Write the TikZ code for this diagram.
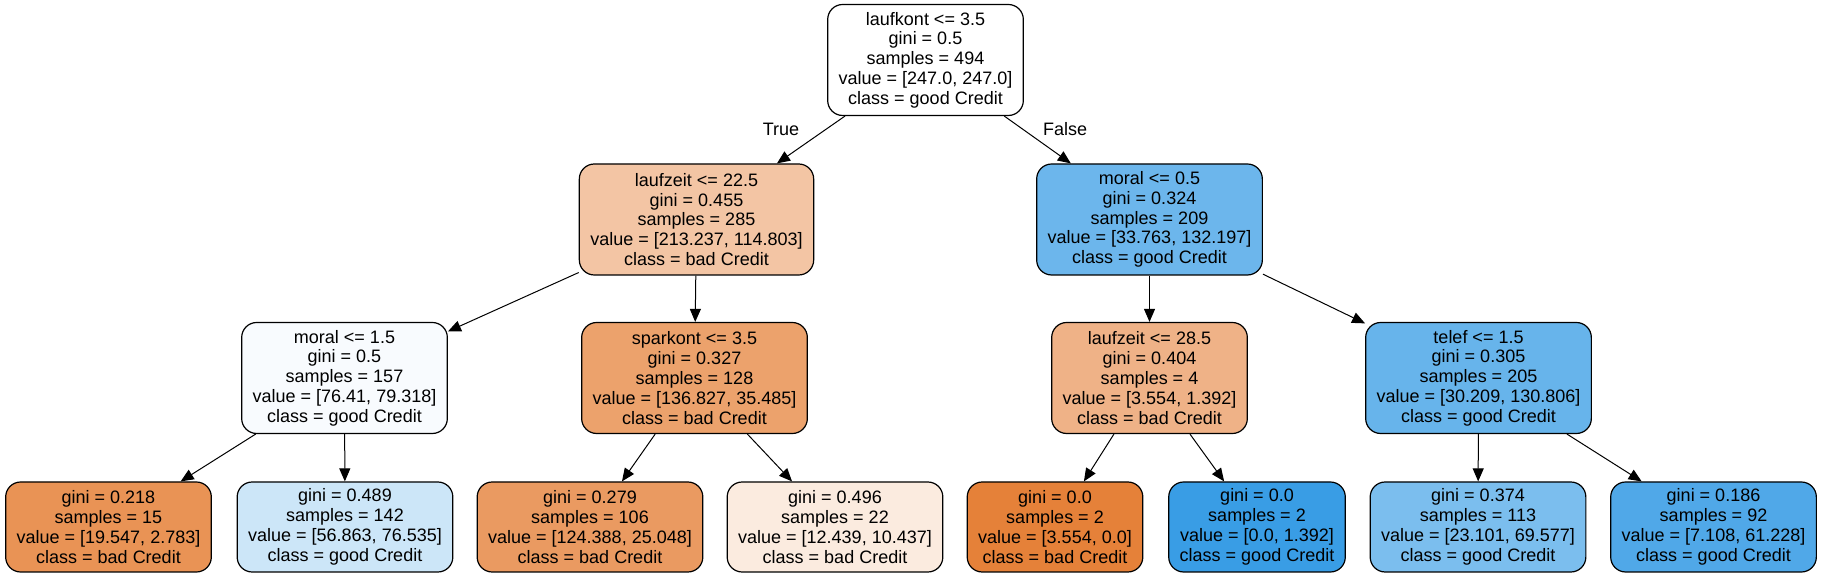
\documentclass[tikz,border=0pt]{standalone}
\usepackage{fontspec}
\setmainfont{Liberation Sans}
\usetikzlibrary{arrows.meta}

\definecolor{rootcol}{HTML}{FFFFFF}
\definecolor{laufzeitAcol}{HTML}{F3C5A4}
\definecolor{moralAcol}{HTML}{6CB6EC}
\definecolor{moralBcol}{HTML}{F8FBFE}
\definecolor{sparkontcol}{HTML}{ECA26C}
\definecolor{laufzeitBcol}{HTML}{EFB287}
\definecolor{telefcol}{HTML}{67B4EB}
\definecolor{leafAcol}{HTML}{E99355}
\definecolor{leafBcol}{HTML}{CCE6F8}
\definecolor{leafCcol}{HTML}{EA9A61}
\definecolor{leafDcol}{HTML}{FBEBDF}
\definecolor{leafEcol}{HTML}{E58139}
\definecolor{leafFcol}{HTML}{399DE5}
\definecolor{leafGcol}{HTML}{7BBEEE}
\definecolor{leafHcol}{HTML}{50A8E8}

\tikzset{
  treenode/.style={draw=black, line width=0.6pt, rounded corners=7.5pt, align=center,
    inner xsep=5.5pt, font=\fontsize{9}{9.9}\selectfont, minimum height=55.5pt},
  leafnode/.style={treenode, minimum height=45pt},
  treeedge/.style={-{Triangle[length=6.5pt,width=5.5pt]}, line width=0.5pt},
  edgelabel/.style={font=\fontsize{9}{9.9}\selectfont},
}

\begin{document}
\begin{tikzpicture}[x=0.5pt,y=0.5pt]
    \useasboundingbox (0,0) rectangle (1823,577);

    % Root
    \node[treenode, fill=rootcol] (root) at (925.5,517)
        {laufkont <= 3.5\\gini = 0.5\\samples = 494\\value = [247.0, 247.0]\\class = good Credit};

    % First level
    \node[treenode, fill=laufzeitAcol] (laufzeitA) at (696.5,357.5)
        {laufzeit <= 22.5\\gini = 0.455\\samples = 285\\value = [213.237, 114.803]\\class = bad Credit};
    \node[treenode, fill=moralAcol] (moralA) at (1149.5,357.5)
        {moral <= 0.5\\gini = 0.324\\samples = 209\\value = [33.763, 132.197]\\class = good Credit};

    % Second level
    \node[treenode, fill=moralBcol] (moralB) at (344.5,199)
        {moral <= 1.5\\gini = 0.5\\samples = 157\\value = [76.41, 79.318]\\class = good Credit};
    \node[treenode, fill=sparkontcol] (sparkont) at (694.5,199)
        {sparkont <= 3.5\\gini = 0.327\\samples = 128\\value = [136.827, 35.485]\\class = bad Credit};
    \node[treenode, fill=laufzeitBcol] (laufzeitB) at (1149.5,199)
        {laufzeit <= 28.5\\gini = 0.404\\samples = 4\\value = [3.554, 1.392]\\class = bad Credit};
    \node[treenode, fill=telefcol] (telef) at (1478.5,199)
        {telef <= 1.5\\gini = 0.305\\samples = 205\\value = [30.209, 130.806]\\class = good Credit};

    % Leaves
    \node[leafnode, fill=leafAcol] (leafA) at (108.5,50)
        {gini = 0.218\\samples = 15\\value = [19.547, 2.783]\\class = bad Credit};
    \node[leafnode, fill=leafBcol] (leafB) at (345,50)
        {gini = 0.489\\samples = 142\\value = [56.863, 76.535]\\class = good Credit};
    \node[leafnode, fill=leafCcol] (leafC) at (590,50)
        {gini = 0.279\\samples = 106\\value = [124.388, 25.048]\\class = bad Credit};
    \node[leafnode, fill=leafDcol] (leafD) at (835,50)
        {gini = 0.496\\samples = 22\\value = [12.439, 10.437]\\class = bad Credit};
    \node[leafnode, fill=leafEcol] (leafE) at (1055,50)
        {gini = 0.0\\samples = 2\\value = [3.554, 0.0]\\class = bad Credit};
    \node[leafnode, fill=leafFcol] (leafF) at (1257,50)
        {gini = 0.0\\samples = 2\\value = [0.0, 1.392]\\class = good Credit};
    \node[leafnode, fill=leafGcol] (leafG) at (1478,50)
        {gini = 0.374\\samples = 113\\value = [23.101, 69.577]\\class = good Credit};
    \node[leafnode, fill=leafHcol] (leafH) at (1713.5,50)
        {gini = 0.186\\samples = 92\\value = [7.108, 61.228]\\class = good Credit};

    % Edges
    \draw[treeedge] (root) -- (laufzeitA);
    \draw[treeedge] (root) -- (moralA);
    \draw[treeedge] (laufzeitA) -- (moralB);
    \draw[treeedge] (laufzeitA) -- (sparkont);
    \draw[treeedge] (moralA) -- (laufzeitB);
    \draw[treeedge] (moralA) -- (telef);
    \draw[treeedge] (moralB) -- (leafA);
    \draw[treeedge] (moralB) -- (leafB);
    \draw[treeedge] (sparkont) -- (leafC);
    \draw[treeedge] (sparkont) -- (leafD);
    \draw[treeedge] (laufzeitB) -- (leafE);
    \draw[treeedge] (laufzeitB) -- (leafF);
    \draw[treeedge] (telef) -- (leafG);
    \draw[treeedge] (telef) -- (leafH);

    % True / False labels
    \node[edgelabel] (truelabel) at (781,448) {True};
    \node[edgelabel] (falselabel) at (1065,448) {False};
\end{tikzpicture}
\end{document}
